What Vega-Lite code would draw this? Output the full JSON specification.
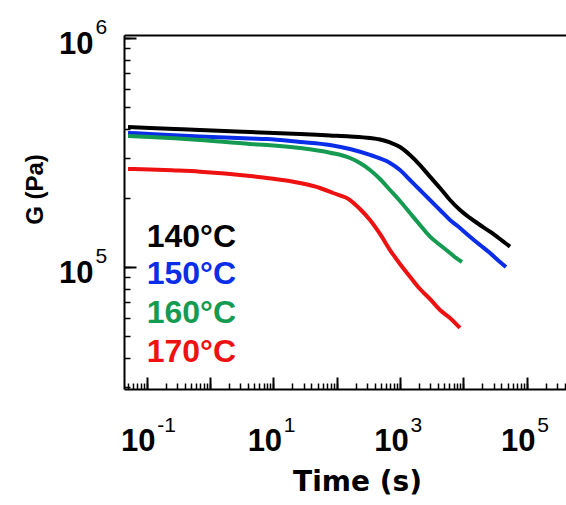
{
  "$schema": "https://vega.github.io/schema/vega-lite/v6.json",
  "width": 442,
  "height": 354,
  "autosize": {"type": "none"},
  "padding": {"left": 124, "top": 35, "right": 0, "bottom": 116},
  "background": "white",
  "config": {
    "view": {"stroke": null},
    "axis": {"grid": false, "labelOverlap": false, "labelFlush": false, "labelBound": false, "domainColor": "black", "tickColor": "black", "labelColor": "black", "titleColor": "black"}
  },
  "datasets": {
    "curves": [
      {"temp": "140°C", "t": 0.0507, "G": 408700},
      {"temp": "140°C", "t": 0.1127, "G": 404600},
      {"temp": "140°C", "t": 0.2797, "G": 400500},
      {"temp": "140°C", "t": 0.6945, "G": 396600},
      {"temp": "140°C", "t": 4.277, "G": 388700},
      {"temp": "140°C", "t": 26.34, "G": 380900},
      {"temp": "140°C", "t": 78.42, "G": 375200},
      {"temp": "140°C", "t": 162.3, "G": 371500},
      {"temp": "140°C", "t": 335.7, "G": 365900},
      {"temp": "140°C", "t": 482.9, "G": 360600},
      {"temp": "140°C", "t": 694.5, "G": 349700},
      {"temp": "140°C", "t": 999, "G": 334200},
      {"temp": "140°C", "t": 1437, "G": 308400},
      {"temp": "140°C", "t": 2067, "G": 278800},
      {"temp": "140°C", "t": 2974, "G": 248000},
      {"temp": "140°C", "t": 4278, "G": 221300},
      {"temp": "140°C", "t": 6153, "G": 196100},
      {"temp": "140°C", "t": 8851, "G": 177400},
      {"temp": "140°C", "t": 12734, "G": 163700},
      {"temp": "140°C", "t": 18313, "G": 152500},
      {"temp": "140°C", "t": 26343, "G": 142600},
      {"temp": "140°C", "t": 37890, "G": 132500},
      {"temp": "140°C", "t": 54520, "G": 122700},
      {"temp": "150°C", "t": 0.0507, "G": 384800},
      {"temp": "150°C", "t": 0.1127, "G": 380900},
      {"temp": "150°C", "t": 0.6945, "G": 371500},
      {"temp": "150°C", "t": 4.277, "G": 364100},
      {"temp": "150°C", "t": 7.933, "G": 362200},
      {"temp": "150°C", "t": 26.34, "G": 351500},
      {"temp": "150°C", "t": 78.42, "G": 341000},
      {"temp": "150°C", "t": 162.3, "G": 327600},
      {"temp": "150°C", "t": 335.7, "G": 308400},
      {"temp": "150°C", "t": 694.5, "G": 284500},
      {"temp": "150°C", "t": 999, "G": 265300},
      {"temp": "150°C", "t": 1437, "G": 239900},
      {"temp": "150°C", "t": 2067, "G": 216900},
      {"temp": "150°C", "t": 2974, "G": 196100},
      {"temp": "150°C", "t": 4278, "G": 177400},
      {"temp": "150°C", "t": 6153, "G": 160400},
      {"temp": "150°C", "t": 8851, "G": 148000},
      {"temp": "150°C", "t": 12734, "G": 135600},
      {"temp": "150°C", "t": 18313, "G": 124800},
      {"temp": "150°C", "t": 26343, "G": 115100},
      {"temp": "150°C", "t": 37890, "G": 105200},
      {"temp": "150°C", "t": 47135, "G": 100000},
      {"temp": "160°C", "t": 0.0507, "G": 373300},
      {"temp": "160°C", "t": 0.1127, "G": 369600},
      {"temp": "160°C", "t": 0.6945, "G": 358600},
      {"temp": "160°C", "t": 4.277, "G": 344400},
      {"temp": "160°C", "t": 7.933, "G": 341000},
      {"temp": "160°C", "t": 26.34, "G": 330900},
      {"temp": "160°C", "t": 78.42, "G": 315600},
      {"temp": "160°C", "t": 162.3, "G": 299200},
      {"temp": "160°C", "t": 233.3, "G": 284500},
      {"temp": "160°C", "t": 335.7, "G": 265300},
      {"temp": "160°C", "t": 482.9, "G": 242300},
      {"temp": "160°C", "t": 694.5, "G": 216900},
      {"temp": "160°C", "t": 999, "G": 194200},
      {"temp": "160°C", "t": 1437, "G": 172100},
      {"temp": "160°C", "t": 2067, "G": 152500},
      {"temp": "160°C", "t": 2974, "G": 135600},
      {"temp": "160°C", "t": 4278, "G": 124800},
      {"temp": "160°C", "t": 6153, "G": 115100},
      {"temp": "160°C", "t": 7651, "G": 109500},
      {"temp": "160°C", "t": 9519, "G": 105200},
      {"temp": "170°C", "t": 0.0507, "G": 267900},
      {"temp": "170°C", "t": 0.1127, "G": 266600},
      {"temp": "170°C", "t": 0.2797, "G": 264000},
      {"temp": "170°C", "t": 0.6945, "G": 260800},
      {"temp": "170°C", "t": 4.277, "G": 249800},
      {"temp": "170°C", "t": 7.933, "G": 244800},
      {"temp": "170°C", "t": 26.34, "G": 232700},
      {"temp": "170°C", "t": 54.5, "G": 221300},
      {"temp": "170°C", "t": 87.45, "G": 210400},
      {"temp": "170°C", "t": 162.3, "G": 196100},
      {"temp": "170°C", "t": 233.3, "G": 179200},
      {"temp": "170°C", "t": 335.7, "G": 160400},
      {"temp": "170°C", "t": 482.9, "G": 139400},
      {"temp": "170°C", "t": 694.5, "G": 118600},
      {"temp": "170°C", "t": 999, "G": 103100},
      {"temp": "170°C", "t": 1437, "G": 90700},
      {"temp": "170°C", "t": 2067, "G": 80150},
      {"temp": "170°C", "t": 2974, "G": 72480},
      {"temp": "170°C", "t": 4278, "G": 64900},
      {"temp": "170°C", "t": 6153, "G": 59880},
      {"temp": "170°C", "t": 8851, "G": 54150}
    ],
    "labels": [
      {"temp": "140°C", "t": 0.1, "G": 122700},
      {"temp": "150°C", "t": 0.1, "G": 84310},
      {"temp": "160°C", "t": 0.1, "G": 56960},
      {"temp": "170°C", "t": 0.1, "G": 38480}
    ]
  },
  "layer": [
    {
      "data": {"name": "curves"},
      "mark": {"type": "line", "strokeWidth": 4, "interpolate": "monotone", "clip": true},
      "encoding": {
        "x": {
          "field": "t", "type": "quantitative",
          "scale": {"type": "log", "domain": [0.04381, 417700], "nice": false},
          "axis": {
            "orient": "bottom",
            "values": [0.1, 1, 10, 100, 1000, 10000, 100000],
            "tickSize": -12, "tickWidth": 2, "domainWidth": 2,
            "labelExpr": "abs(round(log(datum.value)/LN10)) % 2 == 1 ? '10' : ''",
            "labelFont": "Liberation Sans", "labelFontWeight": "bold", "labelFontSize": 31,
            "labelPadding": 73, "labelBaseline": "alphabetic", "labelAlign": "center", "labelOffset": -9,
            "title": "Time (s)", "titleFont": "DejaVu Sans", "titleFontWeight": "bold", "titleFontSize": 28,
            "titleX": 233, "titleY": 101, "titleBaseline": "alphabetic", "titleAlign": "center"
          }
        },
        "y": {
          "field": "G", "type": "quantitative",
          "scale": {"type": "log", "domain": [29320, 1030600], "nice": false},
          "axis": {
            "orient": "left",
            "values": [100000, 1000000],
            "tickSize": -12, "tickWidth": 2, "domainWidth": 2,
            "labelExpr": "'10'",
            "labelFont": "Liberation Sans", "labelFontWeight": "bold", "labelFontSize": 31,
            "labelPadding": 43, "labelBaseline": "middle", "labelAlign": "right", "labelOffset": 7,
            "title": "G (Pa)", "titleFont": "Liberation Sans", "titleFontWeight": "bold", "titleFontSize": 24,
            "titleAngle": 270, "titleX": -82, "titleY": 154, "titleBaseline": "alphabetic", "titleAlign": "center"
          }
        },
        "color": {
          "field": "temp", "type": "nominal",
          "scale": {"domain": ["140°C", "150°C", "160°C", "170°C"], "range": ["#000000", "#0a2ee8", "#159a52", "#ee1111"]},
          "legend": null
        }
      }
    },
    {
      "data": {"name": "labels"},
      "mark": {"type": "text", "align": "left", "baseline": "alphabetic", "font": "Liberation Sans", "fontWeight": "bold", "fontSize": 32},
      "encoding": {
        "x": {
          "field": "t", "type": "quantitative",
          "axis": {
            "orient": "bottom", "domain": false,
            "values": [0.05, 0.06, 0.07, 0.08, 0.09, 0.1, 0.2, 0.3, 0.4, 0.5, 0.6, 0.7, 0.8, 0.9, 1, 2, 3, 4, 5, 6, 7, 8, 9, 10, 20, 30, 40, 50, 60, 70, 80, 90, 100, 200, 300, 400, 500, 600, 700, 800, 900, 1000, 2000, 3000, 4000, 5000, 6000, 7000, 8000, 9000, 10000, 20000, 30000, 40000, 50000, 60000, 70000, 80000, 90000, 100000, 200000, 300000, 400000],
            "tickSize": -6, "tickWidth": 1.5,
            "labelExpr": "abs(log(datum.value)/LN10 - round(log(datum.value)/LN10)) < 0.001 && abs(round(log(datum.value)/LN10)) % 2 == 1 ? '' + round(log(datum.value)/LN10) : ''",
            "labelFont": "Liberation Sans", "labelFontWeight": "normal", "labelFontSize": 21,
            "labelPadding": 48, "labelBaseline": "alphabetic", "labelAlign": "left", "labelOffset": 10,
            "title": null
          }
        },
        "y": {
          "field": "G", "type": "quantitative",
          "axis": {
            "orient": "left", "domain": false,
            "values": [30000, 40000, 50000, 60000, 70000, 80000, 90000, 100000, 200000, 300000, 400000, 500000, 600000, 700000, 800000, 900000, 1000000],
            "tickSize": -6, "tickWidth": 1.5,
            "labelExpr": "abs(log(datum.value)/LN10 - round(log(datum.value)/LN10)) < 0.001 ? '' + round(log(datum.value)/LN10) : ''",
            "labelFont": "Liberation Sans", "labelFontWeight": "normal", "labelFontSize": 21,
            "labelPadding": 35, "labelBaseline": "middle", "labelAlign": "left", "labelOffset": -10.5,
            "title": null
          }
        },
        "text": {"field": "temp", "type": "nominal"},
        "color": {"field": "temp", "type": "nominal", "legend": null}
      }
    },
    {
      "data": {"name": "labels"},
      "mark": {"type": "point", "opacity": 0},
      "encoding": {
        "x": {
          "field": "t", "type": "quantitative",
          "axis": {"orient": "top", "domain": true, "domainWidth": 2, "ticks": false, "labels": false, "title": null}
        },
        "y": {"field": "G", "type": "quantitative", "axis": null}
      }
    }
  ],
  "resolve": {"axis": {"x": "independent", "y": "independent"}}
}
